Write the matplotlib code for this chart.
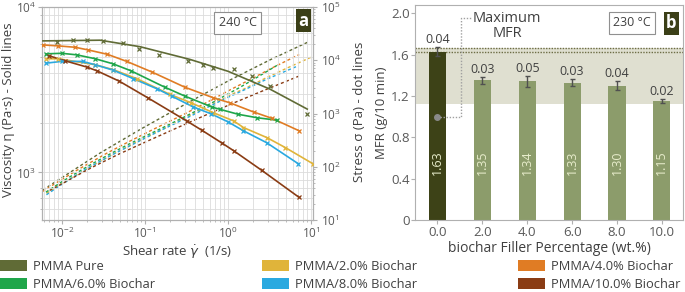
import numpy as np
import matplotlib
matplotlib.use("Agg")
import matplotlib.pyplot as plt
from matplotlib.patches import Patch

plt.rcParams['font.family'] = ['Open Sans', 'DejaVu Sans']
plt.rcParams['axes.unicode_minus'] = False

# ---------------- data: panel a (viscosity vs shear rate) ----------------
# measured points (x markers)
rate_pure = [0.0086, 0.0137, 0.0198, 0.0315, 0.0548, 0.0854, 0.149, 0.33, 0.495, 0.654, 1.16, 1.93, 3.15, 8.9]
visc_pure = [6110, 6310, 6300, 6250, 6050, 5540, 5140, 4690, 4480, 4275, 4240, 3810, 3320, 2245]
# fitted (solid) curve for the pure sample
fit_rate_pure = [0.0059, 0.0287, 0.087, 0.348, 1.0, 3.2, 8.95]
fit_visc_pure = [6240, 6300, 5755, 4820, 4085, 3185, 2415]

rate_2 = [0.0065, 0.0090, 0.025, 0.0415, 0.0794, 0.20, 0.356, 0.666, 1.16, 1.53, 2.92, 4.86, 10.5]
visc_2 = [4865, 4865, 4480, 4180, 3690, 2960, 2640, 2295, 2050, 1868, 1625, 1415, 1128]

rate_4 = [0.00585, 0.0090, 0.0144, 0.0207, 0.0351, 0.0602, 0.1205, 0.303, 0.666, 1.04, 2.02, 3.36, 7.16]
visc_4 = [5900, 5820, 5710, 5500, 5180, 4690, 4050, 3270, 2825, 2640, 2320, 2125, 1785]

rate_6 = [0.0064, 0.0099, 0.0150, 0.025, 0.0408, 0.0673, 0.174, 0.303, 0.637, 0.802, 1.33, 2.25, 3.86]
visc_6 = [5210, 5250, 5140, 4870, 4540, 4120, 3270, 2890, 2485, 2405, 2245, 2140, 2070]

rate_8 = [0.0065, 0.0099, 0.0177, 0.025, 0.0415, 0.072, 0.138, 0.21, 0.382, 0.618, 1.0, 1.53, 2.9, 7.0]
visc_8 = [4580, 4690, 4690, 4480, 4150, 3690, 3210, 2890, 2485, 2265, 2020, 1785, 1514, 1128]

rate_10 = [0.0070, 0.0109, 0.0198, 0.0262, 0.049, 0.108, 0.318, 0.482, 0.84, 1.16, 2.55, 7.03]
visc_10 = [5070, 4730, 4340, 4120, 3560, 2825, 2045, 1800, 1507, 1355, 1028, 711]

series_names = ["PMMA Pure", "PMMA/2.0% Biochar", "PMMA/4.0% Biochar",
                "PMMA/6.0% Biochar", "PMMA/8.0% Biochar", "PMMA/10.0% Biochar"]
series_colors = ['#606b36', '#e0b43a', '#e07c24', '#1fa64a', '#2aa9e0', '#8a3c14']
series_rates = [rate_pure, rate_2, rate_4, rate_6, rate_8, rate_10]
series_visc = [visc_pure, visc_2, visc_4, visc_6, visc_8, visc_10]
line_rates = [fit_rate_pure, rate_2, rate_4, rate_6, rate_8, rate_10]
line_visc = [fit_visc_pure, visc_2, visc_4, visc_6, visc_8, visc_10]

# ---------------- data: panel b (MFR bars) ----------------
filler_labels = ['0.0', '2.0', '4.0', '6.0', '8.0', '10.0']
mfr_values = [1.63, 1.35, 1.34, 1.33, 1.30, 1.15]
mfr_errors = [0.04, 0.03, 0.05, 0.03, 0.04, 0.02]
band_low, band_high = 1.12, 1.665
max_line2 = 1.63

# ---------------- figure ----------------
fig = plt.figure(figsize=(6.85, 2.92), dpi=100)
W, H = 685, 292

def rect(x0, y0, x1, y1):
    return [x0 / W, (H - y1) / H, (x1 - x0) / W, (y1 - y0) / H]

label_col = '#404040'
tick_col = '#595959'
spine_col = '#b0b0b0'

# ----- panel a -----
ax = fig.add_axes(rect(41.7, 7, 313, 220))
ax2 = ax.twinx()
ax.set_zorder(ax2.get_zorder() + 1)
ax.patch.set_visible(False)

for r, v, lr, lv, c in zip(series_rates, series_visc, line_rates, line_visc, series_colors):
    ax.plot(lr, lv, '-', color=c, lw=1.2, zorder=3)
    ax.plot(r, v, 'x', color=c, ms=3.5, mew=0.9, zorder=4)
    lr = np.array(lr); lv = np.array(lv)
    ax2.plot(lr, lr * lv, linestyle=(0, (2.2, 1.8)), color=c, lw=1.0, zorder=2)

ax.set_xscale('log'); ax.set_yscale('log'); ax2.set_yscale('log')
ax.set_xlim(0.0057, 10.5)
ax.set_ylim(516, 10000)
ax2.set_ylim(10, 1e5)
ax.grid(True, which='both', color='#dcdcdc', lw=0.6)
ax.set_axisbelow(True)
ax.set_xlabel(r"Shear rate $\dot{\gamma}$  (1/s)", fontsize=9.5, color=label_col, labelpad=2)
ax.set_ylabel("Viscosity η (Pa·s) - Solid lines", fontsize=9.5, color=label_col)
ax.yaxis.set_label_coords(-0.098, 0.52)
ax2.set_ylabel("Stress σ (Pa) - dot lines", fontsize=9.5, color=label_col)
ax2.yaxis.set_label_coords(1.147, 0.51)
for a in (ax, ax2):
    a.tick_params(which='both', colors=spine_col, labelcolor=tick_col, labelsize=8.5)
    a.tick_params(which='major', length=3)
    a.tick_params(which='minor', length=1.5)
    for s in a.spines.values():
        s.set_color(spine_col)
ax.tick_params(axis='both', pad=1)
ax2.tick_params(axis='y', pad=3)
ax.tick_params(axis='y', which='minor', labelleft=False)
ax2.tick_params(axis='y', which='minor', labelright=False)

ax.text(0.722, 0.925, "240 °C", transform=ax.transAxes, ha='center', va='center',
        fontsize=9, color='#404040',
        bbox=dict(boxstyle='square,pad=0.35', fc='white', ec='#909090', lw=0.8), zorder=10)
ax.text(0.966, 0.935, "a", transform=ax.transAxes, ha='center', va='center',
        fontsize=12, color='white', fontweight='bold',
        bbox=dict(boxstyle='square,pad=0.15', fc='#3b3f17', ec='none'), zorder=10)

# ----- panel b -----
bx = fig.add_axes(rect(415, 5, 683, 220))
xpos = np.arange(len(filler_labels))
bx.axhspan(band_low, band_high, color='#dfdfd0', zorder=0, lw=0)
bx.axhline(band_high, color='#6d6d45', lw=1.0, ls=(0, (1, 1)), zorder=1)
bx.axhline(max_line2, color='#6d6d45', lw=1.0, ls=(0, (1, 1)), zorder=1)
bar_colors = ['#3d4217'] + ['#8c9c6b'] * (len(filler_labels) - 1)
bx.bar(xpos, mfr_values, width=0.38, color=bar_colors, zorder=2)
bx.errorbar(xpos, mfr_values, yerr=mfr_errors, fmt='none', ecolor='#505050',
            elinewidth=1.0, capsize=1.8, capthick=1.0, zorder=3)
for xi, v, e in zip(xpos, mfr_values, mfr_errors):
    bx.text(xi, v + e + 0.075, f"{e:.2f}", ha='center', va='center', fontsize=9,
            color='#404040', zorder=4)
    bx.text(xi, 0.55, f"{v:.2f}", ha='center', va='center', rotation=90, fontsize=9,
            color='#e8edcc', zorder=4)

# Maximum MFR pointer
bx.plot([0], [1.0], 'o', color='#8a8a8a', ms=4, zorder=4)
bx.plot([0.05, 0.52, 0.52, 0.78], [1.0, 1.0, 1.95, 1.95], color='#a0a0a0',
        lw=1.0, ls=(0, (1, 1.2)), zorder=4)
bx.text(1.55, 1.95, "Maximum", ha='center', va='center', fontsize=10.5, color='#404040')
bx.text(1.55, 1.80, "MFR", ha='center', va='center', fontsize=10.5, color='#404040')

bx.set_xlim(-0.5, 5.47)
bx.set_ylim(0, 2.08)
bx.set_yticks([0, 0.4, 0.8, 1.2, 1.6, 2.0])
bx.set_yticklabels(['0', '0.4', '0.8', '1.2', '1.6', '2.0'])
bx.set_xticks(xpos)
bx.set_xticklabels(filler_labels)
bx.set_xlabel("biochar Filler Percentage (wt.%)", fontsize=10, color=label_col, labelpad=2)
bx.set_ylabel("MFR (g/10 min)", fontsize=9.5, color=label_col, labelpad=2)
bx.tick_params(colors=spine_col, labelcolor=tick_col, labelsize=9.5, length=3, pad=1)
for s in bx.spines.values():
    s.set_color(spine_col)

bx.text(0.81, 0.918, "230 °C", transform=bx.transAxes, ha='center', va='center',
        fontsize=9, color='#404040',
        bbox=dict(boxstyle='square,pad=0.35', fc='white', ec='#909090', lw=0.8), zorder=10)
bx.text(0.957, 0.916, "b", transform=bx.transAxes, ha='center', va='center',
        fontsize=12, color='white', fontweight='bold',
        bbox=dict(boxstyle='square,pad=0.15', fc='#3b3f17', ec='none'), zorder=10)

# ----- legend (3 columns) -----
col_groups = [[0, 3], [1, 4], [2, 5]]
col_x = [0, 262, 518]
for grp, x0 in zip(col_groups, col_x):
    handles = [Patch(facecolor=series_colors[i], edgecolor='none') for i in grp]
    labels = [series_names[i] for i in grp]
    fig.legend(handles, labels, loc='upper left', bbox_to_anchor=(x0 / W, (H - 260) / H),
               frameon=False, fontsize=9.3, handlelength=2.1, handleheight=0.9,
               handletextpad=0.45, labelspacing=0.38, borderpad=0, borderaxespad=0,
               labelcolor='#404040')

fig.savefig("out.png", dpi=100)
